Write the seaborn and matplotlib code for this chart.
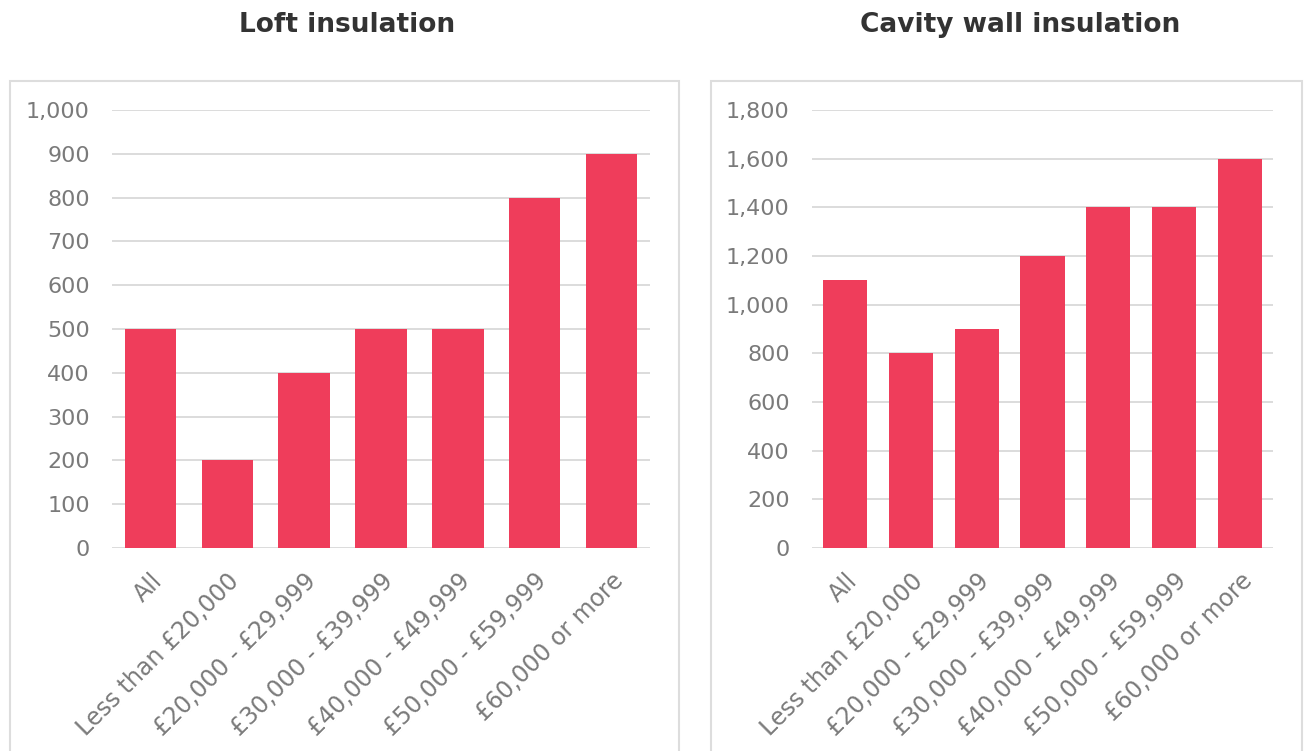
import numpy as np
import pandas as pd
import matplotlib
matplotlib.use("Agg")
import matplotlib.pyplot as plt
import seaborn as sns
from matplotlib.patches import Rectangle
from matplotlib.ticker import FuncFormatter, MultipleLocator

# data
categories = ["All", "Less than £20,000", "£20,000 - £29,999", "£30,000 - £39,999",
              "£40,000 - £49,999", "£50,000 - £59,999", "£60,000 or more"]
loft_values = [500, 200, 400, 500, 500, 800, 900]
cavity_values = [1100, 800, 900, 1200, 1400, 1400, 1600]

bar_color = "#EF3D5B"
grid_color = "#D9D9D9"
text_color = "#7A7A7A"

sns.set_theme(style="white")
plt.rcParams["font.family"] = ["DejaVu Sans"]

fig = plt.figure(figsize=(13.05, 7.51), dpi=100)
W, H = 1305, 751

# panel boxes (pixel coords -> figure fraction)
for x0, x1 in [(10, 679), (711, 1302)]:
    fig.patches.append(Rectangle((x0 / W, -0.05), (x1 - x0) / W, (1 - 81 / H) + 0.05,
                                 transform=fig.transFigure, fill=False,
                                 edgecolor="#DDDDDD", linewidth=1.5, zorder=0))

bottom = 1 - 548 / H
top = 1 - 110 / H
ax1 = fig.add_axes([112 / W, bottom, (650 - 112) / W, top - bottom])
ax2 = fig.add_axes([812 / W, bottom, (1273 - 812) / W, top - bottom])

panels = [
    (ax1, loft_values, 1000, 100, "Loft insulation", 347),
    (ax2, cavity_values, 1800, 200, "Cavity wall insulation", 1020),
]

for ax, vals, ymax, step, title, tx in panels:
    df = pd.DataFrame({"cat": categories, "val": vals})
    sns.barplot(data=df, x="cat", y="val", color=bar_color, width=0.67,
                saturation=1, linewidth=0, ax=ax, zorder=2)
    ax.set_xlim(-0.5, len(categories) - 0.5)
    ax.set_ylim(0, ymax)
    ax.yaxis.set_major_locator(MultipleLocator(step))
    ax.yaxis.set_major_formatter(FuncFormatter(lambda v, p: f"{int(v):,}"))
    ax.grid(axis="y", color=grid_color, linewidth=1.3, zorder=0)
    ax.set_axisbelow(True)
    for s in ax.spines.values():
        s.set_visible(False)
    ax.set_xlabel("")
    ax.set_ylabel("")
    ax.tick_params(axis="y", length=0, pad=16, labelsize=16, labelcolor=text_color)
    ax.tick_params(axis="x", length=0, pad=15, labelsize=17, labelcolor=text_color)
    for lab in ax.get_xticklabels():
        lab.set_rotation(45)
        lab.set_ha("right")
        lab.set_rotation_mode("anchor")
    fig.text(tx / W, 1 - 25 / H, title, ha="center", va="center",
             fontsize=19, fontweight="bold", color="#333333")

fig.savefig("out.png", dpi=100, facecolor="white")
